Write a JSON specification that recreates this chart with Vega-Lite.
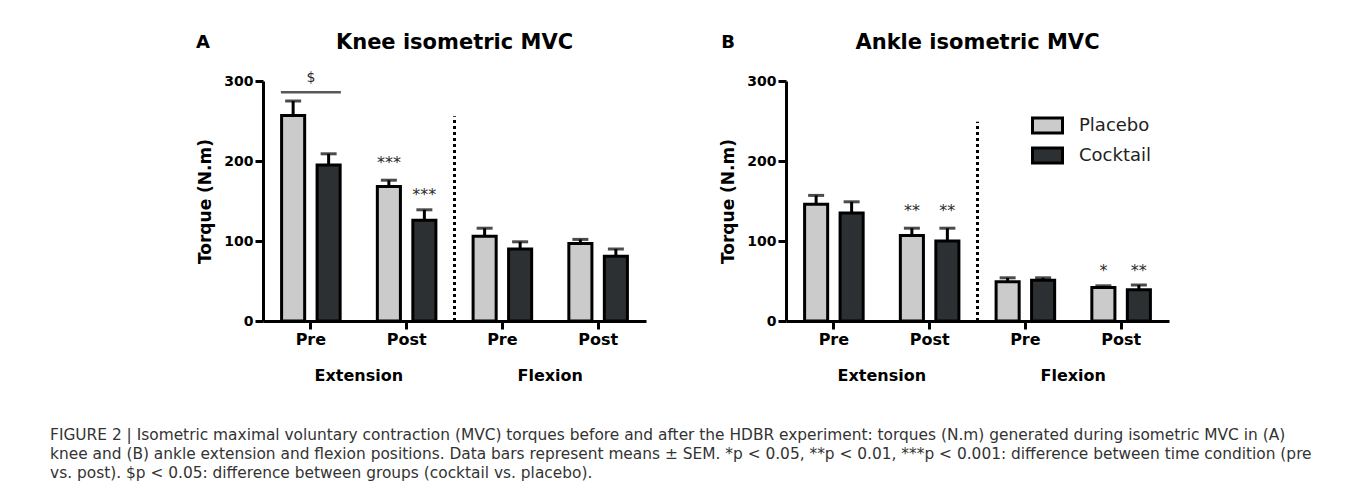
{
  "$schema": "https://vega.github.io/schema/vega-lite/v6.json",
  "padding": {"left": 50, "top": 32, "right": 5, "bottom": 5},
  "background": "white",
  "title": {
    "text": [
      "FIGURE 2  |  Isometric maximal voluntary contraction (MVC) torques before and after the HDBR experiment: torques (N.m) generated during isometric MVC in (A)",
      "knee and (B) ankle extension and flexion positions. Data bars represent means ± SEM. *p < 0.05, **p < 0.01, ***p < 0.001: difference between time condition (pre",
      "vs. post). $p < 0.05: difference between groups (cocktail vs. placebo)."
    ],
    "orient": "bottom",
    "anchor": "start",
    "font": "DejaVu Sans",
    "fontSize": 15.4,
    "fontWeight": "normal",
    "color": "#333333",
    "lineHeight": 19,
    "offset": 44,
    "dx": -146
  },
  "datasets": {
    "knee": [
      {"cond": "Extension Pre", "group": "Placebo", "mean": 257, "upper": 275},
      {"cond": "Extension Pre", "group": "Cocktail", "mean": 195, "upper": 209},
      {"cond": "Extension Post", "group": "Placebo", "mean": 168, "upper": 176},
      {"cond": "Extension Post", "group": "Cocktail", "mean": 126, "upper": 139},
      {"cond": "Flexion Pre", "group": "Placebo", "mean": 106, "upper": 116},
      {"cond": "Flexion Pre", "group": "Cocktail", "mean": 90, "upper": 99},
      {"cond": "Flexion Post", "group": "Placebo", "mean": 97, "upper": 102},
      {"cond": "Flexion Post", "group": "Cocktail", "mean": 81, "upper": 90}
    ],
    "ankle": [
      {"cond": "Extension Pre", "group": "Placebo", "mean": 146, "upper": 157},
      {"cond": "Extension Pre", "group": "Cocktail", "mean": 135, "upper": 149},
      {"cond": "Extension Post", "group": "Placebo", "mean": 107, "upper": 116},
      {"cond": "Extension Post", "group": "Cocktail", "mean": 100, "upper": 116},
      {"cond": "Flexion Pre", "group": "Placebo", "mean": 49, "upper": 54},
      {"cond": "Flexion Pre", "group": "Cocktail", "mean": 51, "upper": 54},
      {"cond": "Flexion Post", "group": "Placebo", "mean": 42, "upper": 44},
      {"cond": "Flexion Post", "group": "Cocktail", "mean": 39, "upper": 45}
    ],
    "kneeSig": [
      {"cond": "Extension Post", "group": "Placebo", "y": 197, "label": "***"},
      {"cond": "Extension Post", "group": "Cocktail", "y": 157, "label": "***"}
    ],
    "ankleSig": [
      {"cond": "Extension Post", "group": "Placebo", "y": 138, "label": "**"},
      {"cond": "Extension Post", "group": "Cocktail", "y": 138, "label": "**"},
      {"cond": "Flexion Post", "group": "Placebo", "y": 62, "label": "*"},
      {"cond": "Flexion Post", "group": "Cocktail", "y": 62, "label": "**"}
    ],
    "kneeDollar": [{"cond": "Extension Pre", "y": 304, "ly": 286, "label": "$"}],
    "kneeDiv": [{"cond": "Extension Post", "y": 0, "y2": 256}],
    "ankleDiv": [{"cond": "Extension Post", "y": 0, "y2": 249}],
    "groupLabels": [
      {"cond": "Extension Pre", "y": -69, "label": "Extension"},
      {"cond": "Flexion Pre", "y": -69, "label": "Flexion"}
    ],
    "kneeHead": [{"cond": "Extension Pre", "cond2": "Extension Post", "y": 347, "letter": "A", "head": "Knee isometric MVC"}],
    "ankleHead": [{"cond": "Extension Pre", "cond2": "Extension Post", "y": 347, "letter": "B", "head": "Ankle isometric MVC"}]
  },
  "hconcat": [
    {
      "width": 383,
      "height": 240,
      "layer": [
        {
          "data": {"name": "kneeDiv"},
          "mark": {"type": "rule", "strokeDash": [3, 3], "strokeWidth": 3, "color": "black"},
          "encoding": {
            "x": {"field": "cond", "type": "nominal", "bandPosition": 1,
                  "axis": {"labelExpr": "split(datum.label, ' ')[1]", "labelAngle": 0, "title": null, "labelPadding": 2, "labelFontSize": 16},
                  "scale": {"domain": ["Extension Pre", "Extension Post", "Flexion Pre", "Flexion Post"], "paddingInner": 0, "paddingOuter": 0}},
            "y": {"field": "y", "type": "quantitative",
                  "axis": {"values": [0, 100, 200, 300], "title": "Torque (N.m)", "titlePadding": 9, "labelPadding": 2},
                  "scale": {"domain": [0, 300], "nice": false}},
            "y2": {"field": "y2"}
          }
        },
        {
          "data": {"name": "knee"},
          "mark": {"type": "rule", "strokeWidth": 3, "color": "black"},
          "encoding": {
            "x": {"field": "cond", "type": "nominal"},
            "xOffset": {"field": "group", "type": "nominal", "scale": {"domain": ["Placebo", "Cocktail"], "paddingInner": 0.35, "paddingOuter": 0.524}},
            "y": {"field": "mean", "type": "quantitative"},
            "y2": {"field": "upper"}
          }
        },
        {
          "data": {"name": "knee"},
          "mark": {"type": "tick", "size": 16, "thickness": 3, "color": "black"},
          "encoding": {
            "x": {"field": "cond", "type": "nominal"},
            "xOffset": {"field": "group", "type": "nominal"},
            "y": {"field": "upper", "type": "quantitative"}
          }
        },
        {
          "data": {"name": "knee"},
          "mark": {"type": "bar", "stroke": "black", "strokeWidth": 3},
          "encoding": {
            "x": {"field": "cond", "type": "nominal"},
            "xOffset": {"field": "group", "type": "nominal"},
            "y": {"field": "mean", "type": "quantitative"},
            "fill": {"field": "group", "type": "nominal", "scale": {"domain": ["Placebo", "Cocktail"], "range": ["#cbcbcb", "#2d3032"]}, "legend": null}
          }
        },
        {
          "data": {"name": "kneeSig"},
          "mark": {"type": "text", "font": "DejaVu Sans", "fontSize": 16, "color": "#2a2a2a", "baseline": "middle"},
          "encoding": {
            "x": {"field": "cond", "type": "nominal"},
            "xOffset": {"field": "group", "type": "nominal"},
            "y": {"field": "y", "type": "quantitative"},
            "text": {"field": "label"}
          }
        },
        {
          "data": {"name": "kneeDollar"},
          "mark": {"type": "text", "font": "DejaVu Sans", "fontSize": 14, "color": "#2a2a2a", "baseline": "middle"},
          "encoding": {
            "x": {"field": "cond", "type": "nominal"},
            "y": {"field": "y", "type": "quantitative"},
            "text": {"field": "label"}
          }
        },
        {
          "data": {"name": "kneeDollar"},
          "mark": {"type": "tick", "size": 60, "thickness": 2.5, "color": "#111111"},
          "encoding": {
            "x": {"field": "cond", "type": "nominal"},
            "y": {"field": "ly", "type": "quantitative"}
          }
        },
        {
          "data": {"name": "groupLabels"},
          "mark": {"type": "text", "font": "DejaVu Sans", "fontWeight": "bold", "fontSize": 16, "color": "black", "baseline": "middle"},
          "encoding": {
            "x": {"field": "cond", "type": "nominal", "bandPosition": 1},
            "y": {"field": "y", "type": "quantitative"},
            "text": {"field": "label"}
          }
        },
        {
          "data": {"name": "kneeHead"},
          "mark": {"type": "text", "font": "DejaVu Sans", "fontWeight": "bold", "fontSize": 21, "color": "black", "baseline": "middle"},
          "encoding": {
            "x": {"field": "cond2", "type": "nominal", "bandPosition": 1},
            "y": {"field": "y", "type": "quantitative"},
            "text": {"field": "head"}
          }
        },
        {
          "data": {"name": "kneeHead"},
          "mark": {"type": "text", "font": "DejaVu Sans", "fontWeight": "bold", "fontSize": 18, "color": "black", "baseline": "middle", "dx": -60},
          "encoding": {
            "x": {"field": "cond", "type": "nominal", "bandPosition": 0},
            "y": {"field": "y", "type": "quantitative"},
            "text": {"field": "letter"}
          }
        }
      ]
    },
    {
      "width": 383,
      "height": 240,
      "layer": [
        {
          "data": {"name": "ankleDiv"},
          "mark": {"type": "rule", "strokeDash": [3, 3], "strokeWidth": 3, "color": "black"},
          "encoding": {
            "x": {"field": "cond", "type": "nominal", "bandPosition": 1,
                  "axis": {"labelExpr": "split(datum.label, ' ')[1]", "labelAngle": 0, "title": null, "labelPadding": 2, "labelFontSize": 16},
                  "scale": {"domain": ["Extension Pre", "Extension Post", "Flexion Pre", "Flexion Post"], "paddingInner": 0, "paddingOuter": 0}},
            "y": {"field": "y", "type": "quantitative",
                  "axis": {"values": [0, 100, 200, 300], "title": "Torque (N.m)", "titlePadding": 9, "labelPadding": 2},
                  "scale": {"domain": [0, 300], "nice": false}},
            "y2": {"field": "y2"}
          }
        },
        {
          "data": {"name": "ankle"},
          "mark": {"type": "rule", "strokeWidth": 3, "color": "black"},
          "encoding": {
            "x": {"field": "cond", "type": "nominal"},
            "xOffset": {"field": "group", "type": "nominal", "scale": {"domain": ["Placebo", "Cocktail"], "paddingInner": 0.35, "paddingOuter": 0.524}},
            "y": {"field": "mean", "type": "quantitative"},
            "y2": {"field": "upper"}
          }
        },
        {
          "data": {"name": "ankle"},
          "mark": {"type": "tick", "size": 16, "thickness": 3, "color": "black"},
          "encoding": {
            "x": {"field": "cond", "type": "nominal"},
            "xOffset": {"field": "group", "type": "nominal"},
            "y": {"field": "upper", "type": "quantitative"}
          }
        },
        {
          "data": {"name": "ankle"},
          "mark": {"type": "bar", "stroke": "black", "strokeWidth": 3},
          "encoding": {
            "x": {"field": "cond", "type": "nominal"},
            "xOffset": {"field": "group", "type": "nominal"},
            "y": {"field": "mean", "type": "quantitative"},
            "fill": {
              "field": "group", "type": "nominal",
              "scale": {"domain": ["Placebo", "Cocktail"], "range": ["#cbcbcb", "#2d3032"]},
              "legend": {
                "orient": "none", "legendX": 245, "legendY": 28, "title": null,
                "symbolType": "M-1,-0.5H1V0.5H-1Z", "symbolSize": 900,
                "symbolStrokeColor": "black", "symbolStrokeWidth": 3, "symbolOpacity": 1,
                "labelFont": "DejaVu Sans", "labelFontSize": 18, "labelColor": "#222222",
                "labelOffset": 15, "rowPadding": 0
              }
            }
          }
        },
        {
          "data": {"name": "ankleSig"},
          "mark": {"type": "text", "font": "DejaVu Sans", "fontSize": 16, "color": "#2a2a2a", "baseline": "middle"},
          "encoding": {
            "x": {"field": "cond", "type": "nominal"},
            "xOffset": {"field": "group", "type": "nominal"},
            "y": {"field": "y", "type": "quantitative"},
            "text": {"field": "label"}
          }
        },
        {
          "data": {"name": "groupLabels"},
          "mark": {"type": "text", "font": "DejaVu Sans", "fontWeight": "bold", "fontSize": 16, "color": "black", "baseline": "middle"},
          "encoding": {
            "x": {"field": "cond", "type": "nominal", "bandPosition": 1},
            "y": {"field": "y", "type": "quantitative"},
            "text": {"field": "label"}
          }
        },
        {
          "data": {"name": "ankleHead"},
          "mark": {"type": "text", "font": "DejaVu Sans", "fontWeight": "bold", "fontSize": 21, "color": "black", "baseline": "middle"},
          "encoding": {
            "x": {"field": "cond2", "type": "nominal", "bandPosition": 1},
            "y": {"field": "y", "type": "quantitative"},
            "text": {"field": "head"}
          }
        },
        {
          "data": {"name": "ankleHead"},
          "mark": {"type": "text", "font": "DejaVu Sans", "fontWeight": "bold", "fontSize": 18, "color": "black", "baseline": "middle", "dx": -58},
          "encoding": {
            "x": {"field": "cond", "type": "nominal", "bandPosition": 0},
            "y": {"field": "y", "type": "quantitative"},
            "text": {"field": "letter"}
          }
        }
      ]
    }
  ],
  "spacing": 73,
  "resolve": {"scale": {"fill": "independent"}, "legend": {"fill": "independent"}},
  "config": {
    "view": {"stroke": null},
    "axis": {
      "domainColor": "black", "domainWidth": 3, "tickColor": "black", "tickWidth": 3, "tickSize": 8,
      "labelFont": "DejaVu Sans", "labelFontWeight": "bold", "labelFontSize": 14, "labelColor": "black",
      "titleFont": "DejaVu Sans", "titleFontWeight": "bold", "titleFontSize": 17, "titleColor": "black",
      "grid": false
    }
  }
}
